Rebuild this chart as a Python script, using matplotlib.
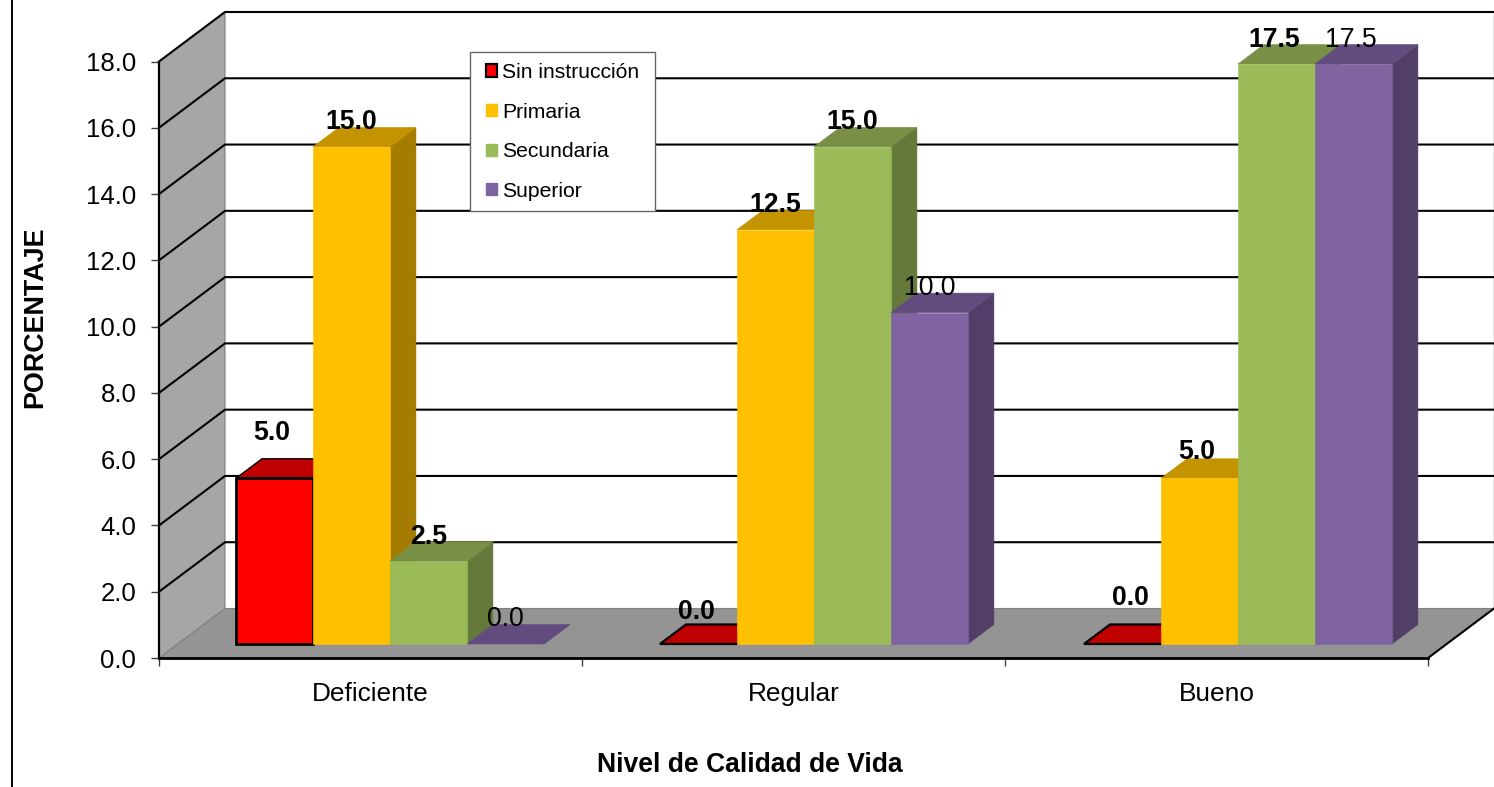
import matplotlib
matplotlib.use("Agg")
import matplotlib.pyplot as plt
from matplotlib.lines import Line2D
from matplotlib.patches import Patch, Polygon, Rectangle

plt.rcParams['font.family'] = ['Liberation Sans', 'DejaVu Sans']

categories = ["Deficiente", "Regular", "Bueno"]
y_ticks = [0, 2, 4, 6, 8, 10, 12, 14, 16, 18]

sin_instruccion = [5.0, 0.0, 0.0]
primaria = [15.0, 12.5, 5.0]
secundaria = [2.5, 15.0, 17.5]
superior = [0.0, 10.0, 17.5]

names = ["Sin instrucción", "Primaria", "Secundaria", "Superior"]
series = [sin_instruccion, primaria, secundaria, superior]

# front, top and side colour of each series
front_colors = ["#FF0000", "#FFC000", "#9BBB59", "#8064A2"]
top_colors = ["#C00000", "#C49300", "#788F45", "#624C7F"]
side_colors = ["#8E0000", "#A47D00", "#657A3A", "#523F68"]
bold_series = [True, True, True, False]

# the fake 3d depth of the box, in data units
DX = 66 / 423
DY = 49.5 / 33.14
BAR_NEAR = 0.283
BAR_FAR = 0.677
BAR_W = 0.182
GAP = 0.1378
STEP = 424 / 423

# labels that do not sit at the usual place above their bar (px)
label_nudge = {(0, 0): (-3, 47), (0, 1): (-2, 33), (0, 2): (8, 47), (1, 2): (-3, 28),
               (2, 2): (-2, 26), (3, 2): (-3, 26)}


def at(x, y, d):
    return x + DX * d, y + DY * d


def quad(ax, pts, color, z, edge=None, lw=0):
    ax.add_patch(Polygon(pts, closed=True, facecolor=color, edgecolor=edge or color,
                         linewidth=lw if edge else 0.4, zorder=z, clip_on=False,
                         joinstyle='miter'))


def draw_bar(ax, x, h, s, z):
    edge = "black" if s == 0 else None
    x2 = x + BAR_W
    quad(ax, [at(x2, 0, BAR_NEAR), at(x2, 0, BAR_FAR), at(x2, h, BAR_FAR), at(x2, h, BAR_NEAR)],
         side_colors[s], z)
    quad(ax, [at(x, h, BAR_NEAR), at(x, h, BAR_FAR), at(x2, h, BAR_FAR), at(x2, h, BAR_NEAR)],
         top_colors[s], z + 0.1, edge, 1.0 if h > 0 else 1.6)
    if h > 0:
        quad(ax, [at(x, 0, BAR_NEAR), at(x2, 0, BAR_NEAR), at(x2, h, BAR_NEAR), at(x, h, BAR_NEAR)],
             front_colors[s], z + 0.2, edge, 2.0)


fig = plt.figure(figsize=(14.94, 7.87), dpi=100)
ax = fig.add_axes([159 / 1494, (787 - 658) / 787, 1269 / 1494, 596.5 / 787])
ax.set_xlim(0, 3)
ax.set_ylim(0, 18)

# side wall, floor and back wall
quad(ax, [at(0, 0, 0), at(0, 0, 1), at(0, 18, 1), at(0, 18, 0)], "#A6A6A6", 1, "#808080", 0.8)
quad(ax, [at(0, 0, 0), at(0, 0, 1), at(3, 0, 1), at(3, 0, 0)], "#949494", 1.2, "#808080", 0.8)
ax.plot(*zip(at(3, 0, 1), at(3, 18, 1)), color="#8C8C8C", lw=1, zorder=1.1, clip_on=False)

# gridlines run up the side wall and across the back wall
for v in y_ticks[1:]:
    ax.plot(*zip(at(0, v, 0), at(0, v, 1), at(3, v, 1)), color="black", lw=1.5,
            zorder=1.5, clip_on=False, solid_joinstyle='miter')
ax.plot(*zip(at(3, 0, 0), at(3, 0, 1)), color="black", lw=1.5, zorder=1.5, clip_on=False)

for c in range(len(categories)):
    for s, values in enumerate(series):
        x = c * STEP + GAP + s * BAR_W
        draw_bar(ax, x, values[c], s, 2 + s)

for c in range(len(categories)):
    for s, values in enumerate(series):
        x = c * STEP + GAP + s * BAR_W + BAR_W / 2
        dx, up = label_nudge.get((s, c), (0, 26))
        ax.annotate(f"{values[c]:.1f}", xy=at(x, values[c], BAR_NEAR),
                    xytext=(dx * 0.72, (up - 1.5) * 0.72), textcoords="offset points",
                    ha="center", va="center", fontsize=19.2,
                    fontweight="bold" if bold_series[s] else "normal",
                    color="black", zorder=8, annotation_clip=False)

for side in ["top", "right"]:
    ax.spines[side].set_visible(False)
ax.spines["left"].set_linewidth(1.6)
ax.spines["bottom"].set_linewidth(2.0)
ax.spines["left"].set_zorder(1.6)
ax.spines["bottom"].set_zorder(1.6)

ax.set_yticks(y_ticks)
ax.set_yticklabels([f"{v:.1f}" for v in y_ticks], fontsize=18.5)
ax.tick_params(axis="y", length=5.5, width=1, color="#404040", pad=10.8)
ax.set_xticks([0, 1, 2, 3])
ax.set_xticklabels([])
ax.tick_params(axis="x", which="major", length=6, width=1, color="#404040")
ax.set_xticks([0.5, 1.5, 2.5], minor=True)
ax.set_xticklabels(categories, minor=True, fontsize=18.9)
ax.tick_params(axis="x", which="minor", length=0, pad=17)

ax.set_xlabel("Nivel de Calidad de Vida", fontsize=19.1, fontweight="bold")
ax.xaxis.set_label_coords((750 - 159) / 1269, -(765 - 658) / 596.5)
ax.xaxis.label.set_verticalalignment("center")
ax.set_ylabel("PORCENTAJE", fontsize=19.4, fontweight="bold")
ax.yaxis.set_label_coords((35 - 159) / 1269, (658 - 317) / 596.5)
ax.yaxis.label.set_verticalalignment("center")

# legend box is its own rectangle so the side margins can differ from the top ones
ax.add_patch(Rectangle((470 / 1494, (787 - 211) / 787), 185 / 1494, 159 / 787,
                       transform=fig.transFigure, facecolor="white", edgecolor="#666666",
                       linewidth=1, zorder=6.9, clip_on=False))
handles = [Patch(facecolor=front_colors[0], edgecolor="black", linewidth=1.6)]
handles += [Patch(facecolor=c, edgecolor=c) for c in front_colors[1:]]
leg = ax.legend(handles, names, loc="upper left", frameon=False,
                bbox_to_anchor=(486 / 1494, (787 - 63) / 787), bbox_transform=fig.transFigure,
                borderaxespad=0, borderpad=0, fontsize=15.2, handlelength=0.52,
                handleheight=0.52, handletextpad=0.25, labelspacing=0.975)
leg.set_zorder(7)

# thin border left of the chart area
fig.add_artist(Line2D([11.5 / 1494, 11.5 / 1494], [0, 1], color="black", lw=1.4))

fig.savefig("out.png", dpi=100)
